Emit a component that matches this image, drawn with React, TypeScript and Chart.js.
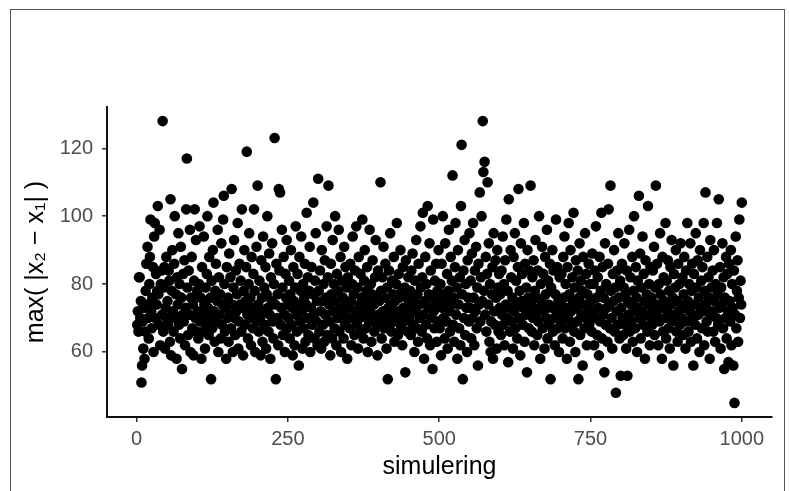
import React, { useEffect, useRef } from "react";
import { Chart, registerables } from "chart.js";

Chart.register(...registerables);

const simValues: number[] = [
  68,72,66,82,82,70,75,51,56,69, 61,73,58,66,78,86,74,91,70,64, 80,88,99,72,67,76,85,60,94,98, 70,83,74,78,103,77,68,96,62,80, 84,71,128,66,79,85,61,73,88,70,
  75,68,84,81,63,105,59,78,90,72, 66,86,100,70,77,58,82,74,95,68, 80,64,91,76,55,71,83,69,87,62, 73,102,117,79,65,84,71,96,60,76, 88,67,74,59,81,102,70,93,66,78,
  72,64,80,97,69,76,58,85,71,66, 94,74,61,79,68,83,100,73,65,88, 70,76,52,81,67,90,104,72,63,78, 86,69,75,96,60,82,71,77,64,92, 68,74,99,106,80,66,73,58,85,70,
  76,63,89,71,82,67,108,74,60,79, 93,70,65,84,72,77,98,61,69,86, 74,81,66,102,73,59,78,90,68,75, 85,119,71,64,80,95,70,76,62,88, 73,67,83,102,78,60,72,91,69,109,
  74,66,81,70,59,87,76,63,94,72, 79,68,85,61,77,100,73,66,89,71, 58,82,75,92,69,64,80,123,74,52, 86,70,77,62,108,84,107,68,73,96, 79,65,88,71,60,83,76,93,67,74,
  70,81,64,77,90,68,73,59,85,75, 62,79,97,71,66,83,74,56,88,69, 78,94,72,61,80,67,76,86,63,74, 101,70,82,65,78,91,60,73,85,68, 77,104,71,64,81,95,69,75,62,111,
  78,66,84,72,61,90,75,68,80,63, 87,71,76,97,65,82,109,74,69,59, 86,77,64,93,72,80,67,100,75,62, 83,70,78,96,66,73,88,60,81,71, 76,64,91,68,85,74,79,58,82,70,
  73,67,86,75,62,80,94,70,77,65, 84,72,97,68,79,61,88,74,70,83, 66,76,99,71,64,81,90,73,67,78, 85,60,75,69,96,72,80,63,77,87, 70,74,66,82,93,68,76,59,84,71,
  75,69,110,78,64,82,72,91,67,76, 86,70,61,79,52,73,84,68,95,74, 66,81,71,77,88,63,75,69,80,98, 72,65,83,76,70,90,67,78,62,85, 73,69,79,54,87,71,76,66,82,74,
  70,78,65,84,73,89,68,76,60,81, 72,93,67,77,63,86,74,70,97,79, 66,82,101,71,58,75,88,68,80,64, 103,73,77,92,62,84,70,76,55,99, 72,67,81,74,86,63,78,69,90,75,
  67,80,59,86,73,100,70,77,64,92, 75,69,83,61,78,96,72,66,88,74, 81,112,68,76,63,85,98,71,79,58, 90,74,67,82,62,103,121,77,52,84, 70,93,65,80,73,60,87,76,69,95,
  73,81,64,89,70,98,76,62,84,72, 91,67,79,56,86,74,107,69,82,100, 75,128,113,78,116,71,88,66,83,110, 74,92,63,80,60,69,77,85,58,95, 72,68,87,76,61,90,79,66,83,73,
  77,65,84,71,94,68,80,62,87,74, 99,70,78,57,105,73,66,90,82,69, 76,61,88,72,95,67,81,74,64,85, 108,70,78,59,92,75,83,68,73,98, 63,86,71,79,54,90,76,67,84,72,
  109,74,66,82,70,87,62,78,93,71, 76,65,84,69,100,73,58,80,75,91, 67,83,72,61,88,77,70,96,64,81, 74,68,86,52,79,73,90,66,84,70, 62,77,99,72,85,67,75,60,82,74,
  69,83,71,64,88,76,94,67,80,73, 58,85,70,98,77,63,90,72,68,82, 75,101,66,79,60,87,73,69,84,52, 76,92,65,81,71,78,56,88,74,67, 95,70,83,62,77,73,86,68,80,71,
  75,66,89,72,80,62,84,70,97,76, 65,82,73,59,88,69,78,101,64,85, 71,76,54,92,68,80,73,63,86,102, 74,67,109,78,70,61,83,75,90,66, 79,48,72,84,68,95,76,64,81,53,
  73,86,70,65,79,92,68,77,61,84, 53,75,71,96,66,82,74,69,88,63, 78,100,72,67,85,76,60,81,73,106, 70,89,64,79,72,94,68,83,75,58, 87,71,77,66,103,74,80,62,85,70,
  76,68,84,72,91,65,79,109,71,86, 74,62,80,69,95,77,73,58,88,66, 82,75,70,98,64,81,72,87,67,78, 61,85,74,93,69,76,56,83,71,79, 90,66,75,63,86,72,80,68,92,74,
  70,82,65,77,88,73,61,84,69,98, 75,66,80,72,92,63,78,86,70,56, 83,74,68,95,79,64,87,71,76,60, 90,73,81,67,85,72,98,62,78,107, 74,69,88,66,82,76,58,93,71,79,
  72,84,66,90,75,63,80,70,98,77, 68,105,73,85,61,79,74,92,67,82, 55,76,70,88,64,83,72,57,86,75, 69,90,62,80,73,56,84,45,71,94, 67,78,87,63,76,99,70,81,74,104,
];

const xTicks: number[] = [0, 250, 500, 750, 1000];
const yTicks: number[] = [60, 80, 100, 120];
const xTitle = "simulering";
const yTitle = "max( |x\u2082 \u2212 x\u2081| )";

const FONT = "'Liberation Sans', Arial, Helvetica, sans-serif";

export default function App() {
  const ref = useRef<HTMLCanvasElement | null>(null);

  useEffect(() => {
    if (!ref.current) return;
    const points = simValues.map((v, i) => ({ x: i + 1, y: v }));
    const n = points.length;
    const yMin = Math.min(...simValues);
    const yMax = Math.max(...simValues);
    const xPad = (n - 1) * 0.05;
    const yPad = (yMax - yMin) * 0.05;
    const chart = new Chart(ref.current, {
      type: "scatter",
      data: {
        datasets: [
          {
            data: points,
            backgroundColor: "#000000",
            borderWidth: 0,
            pointRadius: 5.3,
            pointHoverRadius: 5.3,
          },
        ],
      },
      options: {
        animation: false,
        responsive: false,
        events: [],
        layout: { padding: { left: 0, right: 17, top: 107, bottom: 0 } },
        plugins: { legend: { display: false }, tooltip: { enabled: false } },
        scales: {
          x: {
            type: "linear",
            min: 1 - xPad,
            max: n + xPad,
            afterFit: (s: any) => {
              s.height = 74;
            },
            afterBuildTicks: (s: any) => {
              s.ticks = xTicks.map((v) => ({ value: v }));
            },
            ticks: {
              color: "#4d4d4d",
              font: { family: FONT, size: 20 },
              padding: 5,
              maxRotation: 0,
              callback: (v: any) => String(v),
            },
            grid: {
              display: true,
              drawOnChartArea: false,
              drawTicks: true,
              tickLength: 5,
              color: "#333333",
              lineWidth: 1.5,
            },
            border: { display: true, color: "#111111", width: 2 },
            title: {
              display: true,
              text: xTitle,
              color: "#000000",
              font: { family: FONT, size: 25 },
              padding: { top: 0, bottom: 9 },
            },
          },
          y: {
            type: "linear",
            min: yMin - yPad,
            max: yMax + yPad,
            afterFit: (s: any) => {
              s.width = 107;
            },
            afterBuildTicks: (s: any) => {
              s.ticks = yTicks.map((v) => ({ value: v }));
            },
            ticks: {
              color: "#4d4d4d",
              font: { family: FONT, size: 20 },
              padding: 9,
              callback: (v: any) => String(v),
            },
            grid: {
              display: true,
              drawOnChartArea: false,
              drawTicks: true,
              tickLength: 5,
              color: "#333333",
              lineWidth: 1.5,
            },
            border: { display: true, color: "#111111", width: 2 },
            title: {
              display: true,
              text: yTitle,
              color: "#000000",
              font: { family: FONT, size: 25 },
              padding: { top: 21, bottom: 0 },
            },
          },
        },
      },
    });
    return () => chart.destroy();
  }, []);

  return (
    <div style={{ position: "absolute", left: 0, top: 0, width: 789, height: 491, background: "#ffffff" }}>
      <div
        style={{
          position: "absolute",
          left: 10,
          top: 9,
          width: 773,
          height: 482,
          borderLeft: "1px solid #555",
          borderTop: "1px solid #555",
          borderRight: "1px solid #555",
        }}
      />
      <canvas ref={ref} width={789} height={491} style={{ position: "absolute", left: 0, top: 0 }} />
    </div>
  );
}
